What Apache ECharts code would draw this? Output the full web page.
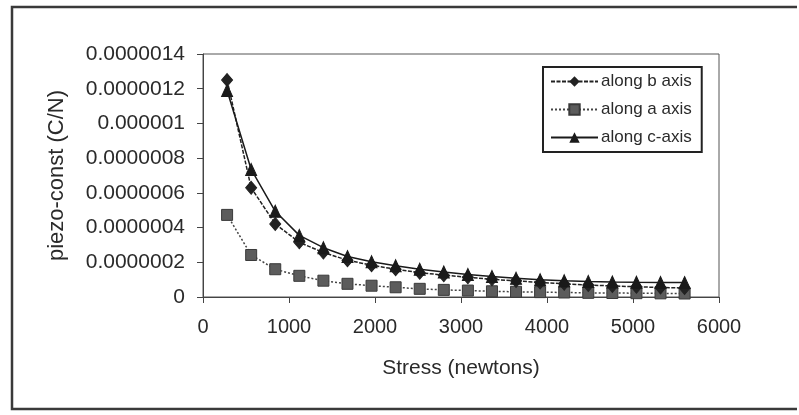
<!DOCTYPE html>
<html>
<head>
<meta charset="utf-8">
<script src="https://cdn.jsdelivr.net/npm/echarts@6/dist/echarts.min.js"></script>
<style>
html,body{margin:0;padding:0;background:#fff;}
#chart{width:799px;height:415px;}
</style>
</head>
<body>
<div id="chart"></div>
<script>
// Data
var stress = [280, 560, 840, 1120, 1400, 1680, 1960, 2240, 2520, 2800, 3080, 3360, 3640, 3920, 4200, 4480, 4760, 5040, 5320, 5600];
var alongB = [1.25e-6, 6.29e-7, 4.21e-7, 3.15e-7, 2.56e-7, 2.12e-7, 1.83e-7, 1.60e-7, 1.40e-7, 1.26e-7, 1.14e-7, 1.02e-7, 9.3e-8, 8.4e-8, 7.6e-8, 6.9e-8, 6.4e-8, 5.9e-8, 5.5e-8, 5.2e-8];
var alongA = [4.73e-7, 2.42e-7, 1.60e-7, 1.22e-7, 9.4e-8, 7.6e-8, 6.5e-8, 5.6e-8, 4.7e-8, 4.1e-8, 3.7e-8, 3.3e-8, 3.0e-8, 2.8e-8, 2.6e-8, 2.4e-8, 2.3e-8, 2.2e-8, 2.1e-8, 2.0e-8];
var alongC = [1.19e-6, 7.35e-7, 4.94e-7, 3.55e-7, 2.84e-7, 2.33e-7, 2.03e-7, 1.80e-7, 1.60e-7, 1.44e-7, 1.30e-7, 1.18e-7, 1.08e-7, 1.00e-7, 9.4e-8, 9.0e-8, 8.7e-8, 8.5e-8, 8.4e-8, 8.3e-8];
var yTickLabels = ['0', '0.0000002', '0.0000004', '0.0000006', '0.0000008', '0.000001', '0.0000012', '0.0000014'];
var xTickLabels = ['0', '1000', '2000', '3000', '4000', '5000', '6000'];
var seriesNames = ['along b axis', 'along a axis', 'along c-axis'];

function pairs(xs, ys) { return xs.map(function (x, i) { return [x, ys[i]]; }); }

var FONT = "'Liberation Sans', Arial, sans-serif";
var TXT = '#2a2a2a';
var chart = echarts.init(document.getElementById('chart'), null, {renderer: 'canvas'});
chart.setOption({
  animation: false,
  backgroundColor: '#ffffff',
  textStyle: {fontFamily: FONT, color: TXT},
  graphic: [{
    type: 'polyline',
    shape: {points: [[797, 7], [12, 7], [12, 409], [797, 409]]},
    style: {stroke: '#3a3a3a', lineWidth: 2.5, fill: null},
    silent: true
  }],
  grid: {left: 203, top: 54, right: 80, bottom: 118, show: true, borderColor: '#555', borderWidth: 1, backgroundColor: 'transparent'},
  legend: {
    orient: 'vertical',
    left: 543, top: 67,
    width: 159,
    padding: [6, 10, 6, 7],
    itemWidth: 47, itemHeight: 13,
    itemGap: 11,
    borderColor: '#222', borderWidth: 2,
    backgroundColor: '#fff',
    textStyle: {fontFamily: FONT, fontSize: 17, color: TXT, padding: [0, 0, 0, -2]},
    data: seriesNames
  },
  xAxis: {
    type: 'value', min: 0, max: 6000, interval: 1000,
    name: 'Stress (newtons)', nameLocation: 'middle', nameGap: 61,
    nameTextStyle: {fontFamily: FONT, fontSize: 21, color: TXT},
    axisLine: {show: true, onZero: false, lineStyle: {color: '#444', width: 1}},
    axisTick: {show: true, length: 6, lineStyle: {color: '#444'}},
    axisLabel: {fontFamily: FONT, fontSize: 20, color: TXT, margin: 20,
      formatter: function (v) { return xTickLabels[Math.round(v / 1000)]; }},
    splitLine: {show: false}
  },
  yAxis: {
    type: 'value', min: 0, max: 1.4e-6, interval: 2e-7,
    name: 'piezo-const (C/N)', nameLocation: 'middle', nameGap: 135, nameRotate: 90,
    nameTextStyle: {fontFamily: FONT, fontSize: 22, color: TXT},
    axisLine: {show: true, lineStyle: {color: '#444', width: 1}},
    axisTick: {show: true, length: 6, lineStyle: {color: '#444'}},
    axisLabel: {fontFamily: FONT, fontSize: 21, color: TXT, margin: 18,
      formatter: function (v) { return yTickLabels[Math.round(v / 2e-7)]; }},
    splitLine: {show: false}
  },
  series: [{
    name: seriesNames[0], type: 'line', data: pairs(stress, alongB),
    symbol: 'diamond', symbolSize: [11, 13], z: 3,
    lineStyle: {color: '#222', width: 1.5, type: [4, 1.5]},
    itemStyle: {color: '#222', borderColor: '#222'}
  }, {
    name: seriesNames[1], type: 'line', data: pairs(stress, alongA),
    symbol: 'rect', symbolSize: 11, z: 2,
    lineStyle: {color: '#444', width: 1.5, type: [2, 2]},
    itemStyle: {color: '#5c5c5c', borderColor: '#3a3a3a', borderWidth: 1}
  }, {
    name: seriesNames[2], type: 'line', data: pairs(stress, alongC),
    symbol: 'triangle', symbolSize: [11, 12], z: 4,
    lineStyle: {color: '#1a1a1a', width: 1.5},
    itemStyle: {color: '#1a1a1a', borderColor: '#1a1a1a'}
  }]
});
</script>
</body>
</html>
